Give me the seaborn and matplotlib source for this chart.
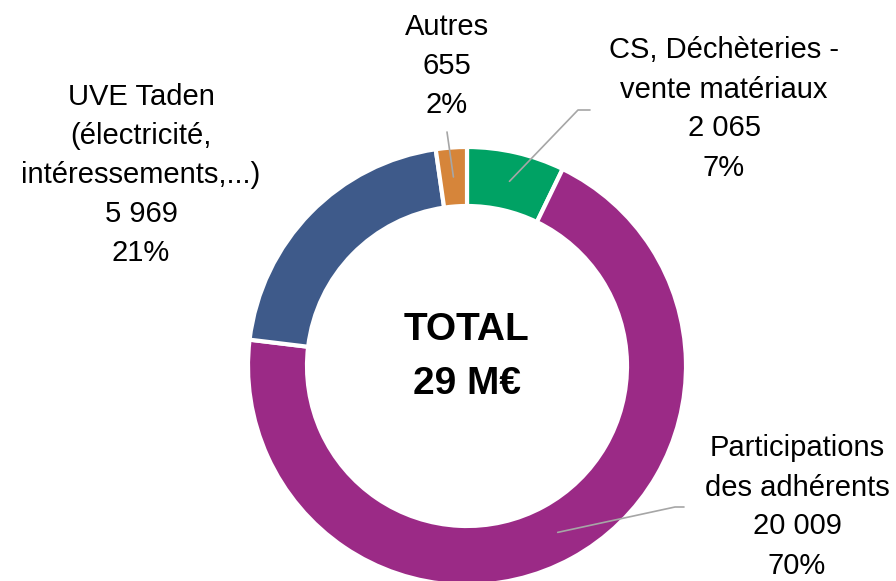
import numpy as np
import matplotlib
matplotlib.use("Agg")
import matplotlib.pyplot as plt
import seaborn as sns

# data (k€)
labels = ["CS, Déchèteries -\nvente matériaux", "Participations\ndes adhérents",
          "UVE Taden\n(électricité,\nintéressements,...)", "Autres"]
values = [2065, 20009, 5969, 655]
colors = ["#00A264", "#9B2A86", "#3E5A8A", "#D6853A"]
total_text = ["TOTAL", "29 M€"]

sns.set_theme(style="white")
plt.rcParams["font.family"] = ["Liberation Sans", "DejaVu Sans"]

W, H = 896, 581
fig = plt.figure(figsize=(W / 100, H / 100), dpi=100)
ax = fig.add_axes([0, 0, 1, 1])

cx, cy = 467, H - 366          # donut centre in pixel coords (y up)
r_out, ring = 219, 59

wedges, _ = ax.pie(values, colors=colors, startangle=90, counterclock=False,
                   radius=r_out, center=(cx, cy),
                   wedgeprops=dict(width=ring, edgecolor="white", linewidth=3))

ax.set_xlim(0, W)
ax.set_ylim(0, H)
ax.set_aspect("equal")
ax.axis("off")

tot = sum(values)
fs = 21
lh = 39   # line height in px

# label block centre (x, y in image px), leader line points after the wedge anchor
label_pos = [(724, 109), (797, 507), (141, 175), (447, 66)]
leaders = [[(578, 110), (590, 110)], [(675, 507), (684, 507)], None, [(447, 132)]]

for w, lab, v, (lx, ly), lead in zip(wedges, labels, values, label_pos, leaders):
    txt = lab.split("\n") + [f"{v:,}".replace(",", " "), f"{round(100 * v / tot)}%"]
    n = len(txt)
    for i, t in enumerate(txt):
        y = H - (ly - (n - 1) / 2 * lh + i * lh)
        ax.text(lx, y, t, ha="center", va="center", fontsize=fs, color="black")
    if lead is not None:
        ang = np.deg2rad((w.theta1 + w.theta2) / 2)
        rm = r_out - ring / 2
        xs = [cx + rm * np.cos(ang)] + [p[0] for p in lead]
        ys = [cy + rm * np.sin(ang)] + [H - p[1] for p in lead]
        ax.plot(xs, ys, color="#A6A6A6", lw=1.2)

ax.text(cx, H - 330, total_text[0], ha="center", va="center", fontsize=28,
        fontweight="bold", color="black")
ax.text(cx, H - 384, total_text[1], ha="center", va="center", fontsize=28,
        fontweight="bold", color="black")

fig.savefig("out.png", dpi=100)
